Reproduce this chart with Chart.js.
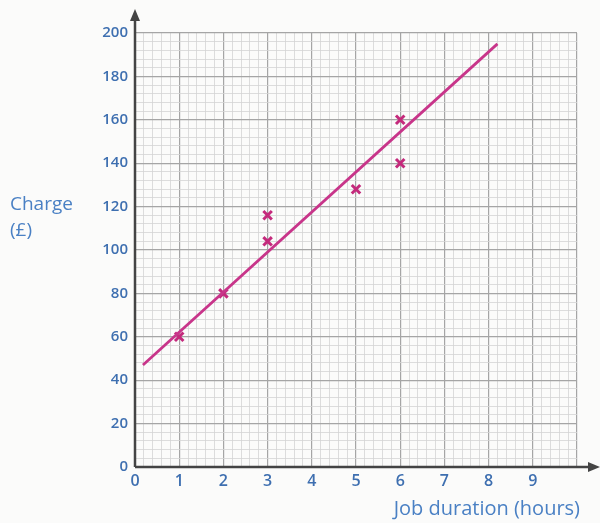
<!DOCTYPE html>
<html>
<head>
<meta charset="utf-8">
<script src="https://cdn.jsdelivr.net/npm/chart.js@4.4.1/dist/chart.umd.min.js"></script>
<style>
  html, body { margin: 0; padding: 0; background: #fbfbfa; }
  #wrap { position: relative; width: 600px; height: 523px; }
</style>
</head>
<body>
<div id="wrap"><canvas id="chart" width="600" height="523"></canvas></div>
<script>
// Job duration (hours) vs charge (£)
const durations = [1, 2, 3, 3, 5, 6, 6];
const charges = [60, 80, 116, 104, 128, 160, 140];

// hand-drawn line of best fit, ends as drawn
const fitX = [0.18, 8.2];
const fitY = [47, 195];

const xTickLabels = ['0', '1', '2', '3', '4', '5', '6', '7', '8', '9'];
const yTickLabels = ['0', '20', '40', '60', '80', '100', '120', '140', '160', '180', '200'];

const FONT = '"Comic Sans MS", "Open Sans", "DejaVu Sans", sans-serif';
const LABEL_BLUE = '#3e6fb0';
const PINK = '#c8358a';

const isMajor = (v, step) => Math.abs(v / step - Math.round(v / step)) < 1e-6;

// axis arrows and horizontal axis titles
const paperAxes = {
  id: 'paperAxes',
  afterDatasetsDraw(chart) {
    const { ctx, chartArea: a } = chart;
    ctx.save();
    ctx.strokeStyle = '#444';
    ctx.fillStyle = '#444';
    ctx.lineWidth = 2.5;
    ctx.beginPath();
    ctx.moveTo(a.left, a.bottom);
    ctx.lineTo(a.left, a.top - 18);
    ctx.moveTo(a.left, a.bottom);
    ctx.lineTo(a.right + 18, a.bottom);
    ctx.stroke();
    // arrow heads
    ctx.beginPath();
    ctx.moveTo(a.left, a.top - 24);
    ctx.lineTo(a.left - 5, a.top - 12);
    ctx.lineTo(a.left + 5, a.top - 12);
    ctx.closePath();
    ctx.fill();
    ctx.beginPath();
    ctx.moveTo(a.right + 23, a.bottom);
    ctx.lineTo(a.right + 11, a.bottom - 5);
    ctx.lineTo(a.right + 11, a.bottom + 5);
    ctx.closePath();
    ctx.fill();

    ctx.fillStyle = '#4a80c4';
    ctx.font = '500 19px ' + FONT;
    ctx.textAlign = 'left';
    ctx.textBaseline = 'alphabetic';
    ctx.fillText('Charge', 10, 210);
    ctx.fillText('(£)', 10, 236);
    ctx.font = '500 20px ' + FONT;
    ctx.textAlign = 'right';
    ctx.fillText('Job duration (hours)', a.right + 3, chart.height - 8);
    ctx.restore();
  }
};

new Chart(document.getElementById('chart'), {
  type: 'scatter',
  data: {
    datasets: [
      {
        type: 'line',
        label: 'Line of best fit',
        data: fitX.map((x, i) => ({ x, y: fitY[i] })),
        borderColor: PINK,
        borderWidth: 2.8,
        pointRadius: 0,
        fill: false
      },
      {
        label: 'Jobs',
        data: durations.map((x, i) => ({ x, y: charges[i] })),
        pointStyle: 'crossRot',
        pointRadius: 6,
        borderColor: '#c42a7c',
        backgroundColor: '#c42a7c',
        pointBorderWidth: 3
      }
    ]
  },
  plugins: [paperAxes],
  options: {
    responsive: false,
    animation: false,
    layout: { padding: { top: 33, right: 23, left: 0, bottom: 0 } },
    plugins: {
      legend: { display: false },
      tooltip: { enabled: false }
    },
    scales: {
      x: {
        type: 'linear',
        min: 0,
        max: 10,
        afterBuildTicks: (scale) => {
          const t = [];
          for (let i = 0; i <= 50; i++) t.push({ value: i * 0.2 });
          scale.ticks = t;
        },
        afterFit: (scale) => { scale.height = 56; },
        border: { display: false },
        grid: {
          drawTicks: false,
          color: (c) => isMajor(c.tick.value, 1) ? '#a5a5a5' : '#d4d4d4',
          lineWidth: (c) => isMajor(c.tick.value, 1) ? 1.2 : 0.8
        },
        ticks: {
          autoSkip: false,
          maxRotation: 0,
          padding: 5,
          color: LABEL_BLUE,
          font: { family: FONT, size: 16, weight: '600' },
          callback: (v) => isMajor(v, 1) ? (xTickLabels[Math.round(v)] || '') : ''
        }
      },
      y: {
        type: 'linear',
        min: 0,
        max: 200,
        afterBuildTicks: (scale) => {
          const t = [];
          for (let i = 0; i <= 50; i++) t.push({ value: i * 4 });
          scale.ticks = t;
        },
        afterFit: (scale) => { scale.width = 135; },
        border: { display: false },
        grid: {
          drawTicks: false,
          color: (c) => isMajor(c.tick.value, 20) ? '#a5a5a5' : '#d4d4d4',
          lineWidth: (c) => isMajor(c.tick.value, 20) ? 1.2 : 0.8
        },
        ticks: {
          autoSkip: false,
          padding: 7,
          color: LABEL_BLUE,
          font: { family: FONT, size: 15, weight: '600' },
          callback: (v) => isMajor(v, 20) ? (yTickLabels[Math.round(v / 20)] || '') : ''
        }
      }
    }
  }
});
</script>
</body>
</html>
